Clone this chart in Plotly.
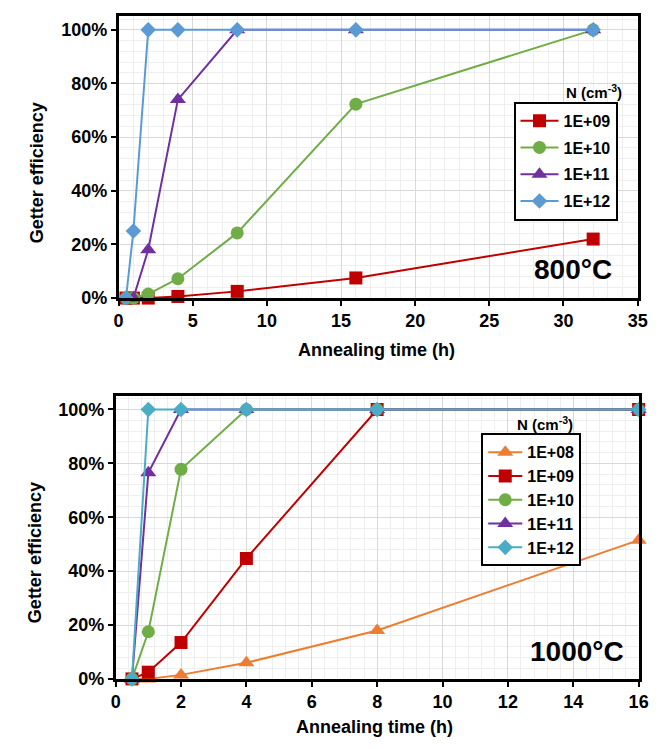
import plotly.graph_objects as go

# ---------- data ----------
t800 = [0.5, 1, 2, 4, 8, 16, 32]
e800_1e09 = [0.0, 0.0, 0.0, 0.006, 0.025, 0.075, 0.22]
e800_1e10 = [0.0, 0.0, 0.015, 0.072, 0.243, 0.723, 1.0]
e800_1e11 = [0.0, 0.0, 0.18, 0.74, 1.0, 1.0, 1.0]
e800_1e12 = [0.0, 0.25, 1.0, 1.0, 1.0, 1.0, 1.0]

t1000 = [0.5, 1, 2, 4, 8, 16]
e1000_1e08 = [0.0, 0.0, 0.015, 0.06, 0.18, 0.515]
e1000_1e09 = [0.0, 0.025, 0.135, 0.447, 1.0, 1.0]
e1000_1e10 = [0.0, 0.175, 0.778, 1.0, 1.0, 1.0]
e1000_1e11 = [0.0, 0.765, 1.0, 1.0, 1.0, 1.0]
e1000_1e12 = [0.0, 1.0, 1.0, 1.0, 1.0, 1.0]

x800_ticks = [0, 5, 10, 15, 20, 25, 30, 35]
x1000_ticks = [0, 2, 4, 6, 8, 10, 12, 14, 16]
y_ticks = [0, 0.2, 0.4, 0.6, 0.8, 1.0]
y_ticklabels = ["0%", "20%", "40%", "60%", "80%", "100%"]

FONT = "Liberation Sans, Arial, sans-serif"
RED = "#C00000"
GREEN = "#70AD47"
PURPLE = "#7030A0"
BLUE = "#5B9BD5"
ORANGE = "#ED7D31"
CYAN = "#4BACC6"

W, H = 668, 749

fig = go.Figure()


def add(x, y, name, color, symbol, size, xa, ya, legend):
    fig.add_trace(go.Scatter(
        x=x, y=y, name=name, mode="lines+markers",
        line=dict(color=color, width=2),
        marker=dict(color=color, symbol=symbol, size=size),
        xaxis=xa, yaxis=ya, legend=legend, legendgroup=legend + name,
        cliponaxis=False,
    ))


add(t800, e800_1e09, "1E+09", RED, "square", 13, "x", "y", "legend")
add(t800, e800_1e10, "1E+10", GREEN, "circle", 13, "x", "y", "legend")
add(t800, e800_1e11, "1E+11", PURPLE, "triangle-up", 14, "x", "y", "legend")
add(t800, e800_1e12, "1E+12", BLUE, "diamond", 12, "x", "y", "legend")

add(t1000, e1000_1e08, "1E+08", ORANGE, "triangle-up", 14, "x2", "y2", "legend2")
add(t1000, e1000_1e09, "1E+09", RED, "square", 13, "x2", "y2", "legend2")
add(t1000, e1000_1e10, "1E+10", GREEN, "circle", 13, "x2", "y2", "legend2")
add(t1000, e1000_1e11, "1E+11", PURPLE, "triangle-up", 14, "x2", "y2", "legend2")
add(t1000, e1000_1e12, "1E+12", CYAN, "diamond", 12, "x2", "y2", "legend2")


def px_x(v):
    return v / W


def px_y(v):
    return 1 - v / H


tickfont = dict(family=FONT, size=18, color="black", weight="bold")
common_ax = dict(
    showline=True, linecolor="black", linewidth=2.5, mirror=True,
    ticks="outside", ticklen=5, tickwidth=2, tickcolor="black",
    showgrid=True, gridcolor="#D9D9D9", gridwidth=1,
    zeroline=False, tickfont=tickfont,
)

legend_font = dict(family=FONT, size=16, color="black", weight="bold")

fig.update_layout(
    width=W, height=H,
    margin=dict(l=0, r=0, t=0, b=0),
    paper_bgcolor="white", plot_bgcolor="white",
    font=dict(family=FONT, color="black"),
    xaxis=dict(domain=[px_x(108), px_x(639)], anchor="y", range=[0, 35],
               tickvals=x800_ticks,
               minor=dict(dtick=1, showgrid=True, gridcolor="#EEEEEE"),
               **common_ax),
    yaxis=dict(domain=[px_y(294), px_y(8)], anchor="x", range=[0, 1.052],
               tickvals=y_ticks, ticktext=y_ticklabels,
               minor=dict(dtick=0.04, showgrid=True, gridcolor="#EEEEEE"),
               **common_ax),
    xaxis2=dict(domain=[px_x(105), px_x(640)], anchor="y2", range=[0, 16],
                tickvals=x1000_ticks,
                minor=dict(dtick=0.4, showgrid=True, gridcolor="#EEEEEE"),
                **common_ax),
    yaxis2=dict(domain=[px_y(680), px_y(393)], anchor="x2", range=[0, 1.051],
                tickvals=y_ticks, ticktext=y_ticklabels,
                minor=dict(dtick=0.04, showgrid=True, gridcolor="#EEEEEE"),
                **common_ax),
    legend=dict(x=px_x(512), y=px_y(95), xanchor="left", yanchor="top",
                bgcolor="white", bordercolor="black", borderwidth=2,
                font=legend_font, tracegroupgap=3, itemwidth=38),
    legend2=dict(x=px_x(479), y=px_y(431), xanchor="left", yanchor="top",
                 bgcolor="white", bordercolor="black", borderwidth=2,
                 font=legend_font, tracegroupgap=0, itemwidth=34),
)

ann_font = dict(family=FONT, size=18, color="black", weight="bold")
annotations = [
    dict(text="Getter efficiency", x=px_x(24), y=px_y(167), textangle=-90,
         font=ann_font),
    dict(text="Getter efficiency", x=px_x(22), y=px_y(552), textangle=-90,
         font=ann_font),
    dict(text="Annealing time (h)", x=px_x(372), y=px_y(347), font=ann_font),
    dict(text="Annealing time (h)", x=px_x(370), y=px_y(729), font=ann_font),
    dict(text="800°C", x=px_x(615), y=px_y(265), xanchor="right",
         font=dict(family=FONT, size=28, color="black", weight="bold")),
    dict(text="1000°C", x=px_x(627), y=px_y(652), xanchor="right",
         font=dict(family=FONT, size=28, color="black", weight="bold")),
    dict(text="N (cm<sup>-3</sup>)", x=px_x(625), y=px_y(85), xanchor="right",
         font=dict(family=FONT, size=15, color="black", weight="bold")),
    dict(text="N (cm<sup>-3</sup>)", x=px_x(575), y=px_y(421), xanchor="right",
         font=dict(family=FONT, size=15, color="black", weight="bold")),
]
for a in annotations:
    a.update(xref="paper", yref="paper", showarrow=False)
    a.setdefault("xanchor", "center")
    a.setdefault("yanchor", "middle")
fig.update_layout(annotations=annotations)

fig.write_html("out.html")
